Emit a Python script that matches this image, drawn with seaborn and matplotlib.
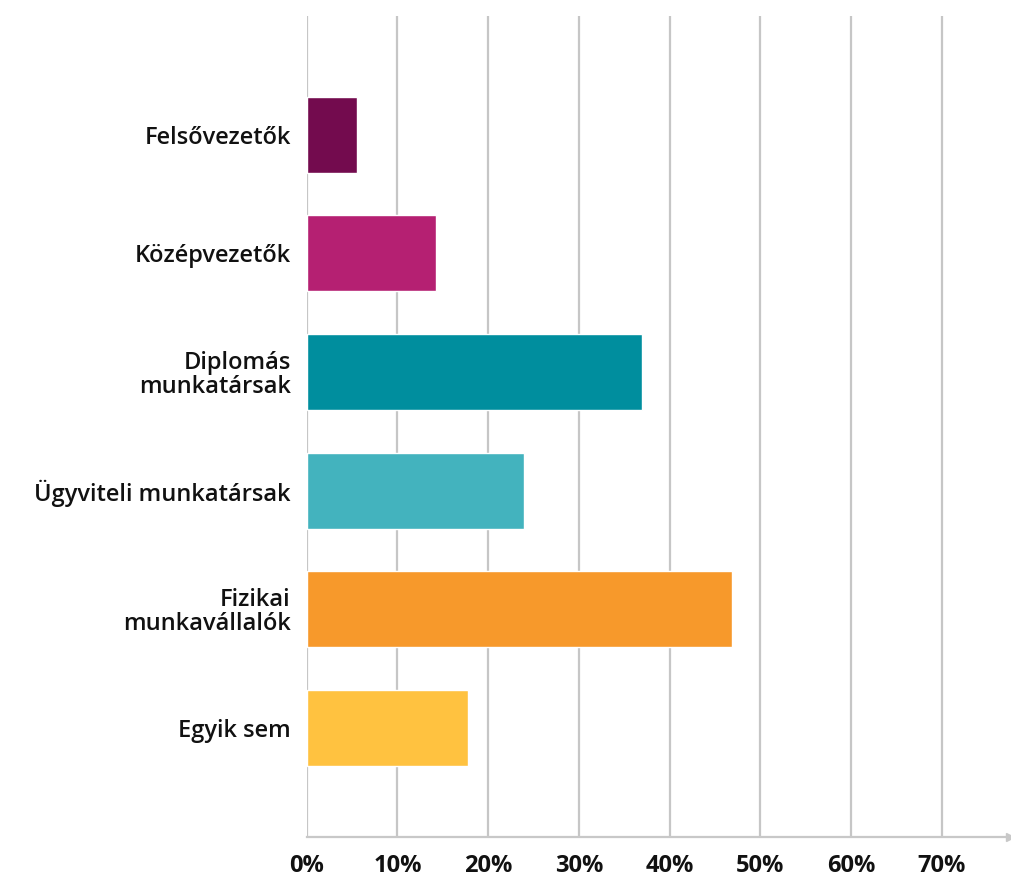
import matplotlib
matplotlib.use("Agg")
import matplotlib.pyplot as plt
import seaborn as sns
import pandas as pd

categories = ["Felsővezetők", "Középvezetők", "Diplomás\nmunkatársak",
              "Ügyviteli munkatársak", "Fizikai\nmunkavállalók", "Egyik sem"]
values = [5.5, 14.2, 36.9, 23.9, 46.9, 17.8]
colors = ["#730B4E", "#B52072", "#008E9E", "#43B3BE", "#F7992B", "#FFC240"]
xticks = [0, 10, 20, 30, 40, 50, 60, 70]
xtick_labels = ["0%", "10%", "20%", "30%", "40%", "50%", "60%", "70%"]

sns.set_theme(style="white")
plt.rcParams['font.family'] = ['Open Sans', 'DejaVu Sans']

df = pd.DataFrame({"cat": categories, "val": values})

fig = plt.figure(figsize=(10.11, 8.8), dpi=100)
ax = fig.add_axes([0.3034, 0.0489, 0.6956, 0.9329])

sns.barplot(data=df, y="cat", x="val", hue="cat", palette=colors, orient="h",
            width=0.64, legend=False, saturation=1, ax=ax, zorder=3)

ax.set_xlim(0, 77.5)
ax.set_ylim(5.92, -1)
ax.set_xlabel("")
ax.set_ylabel("")
ax.set_xticks(xticks)
ax.set_xticklabels(xtick_labels, fontsize=17, fontweight="bold", color="#111111")
ax.tick_params(axis="x", length=0, pad=12.5)
ax.tick_params(axis="y", length=0, pad=11.5)
for lab in ax.get_yticklabels():
    lab.set_fontsize(17)
    lab.set_fontweight("semibold")
    lab.set_color("#111111")
    lab.set_linespacing(1.0)

ax.grid(axis="x", color="#C6C6C6", linewidth=1.6)
ax.grid(axis="y", visible=False)
ax.set_axisbelow(True)
for s in ["top", "right", "left"]:
    ax.spines[s].set_visible(False)
ax.spines["bottom"].set_color("#C8C8C8")
ax.spines["bottom"].set_linewidth(1.6)
ax.plot(1.0, 0, ">", transform=ax.transAxes, clip_on=False, color="#C8C8C8",
        markersize=6, zorder=4)

fig.savefig("out.png", dpi=100)
